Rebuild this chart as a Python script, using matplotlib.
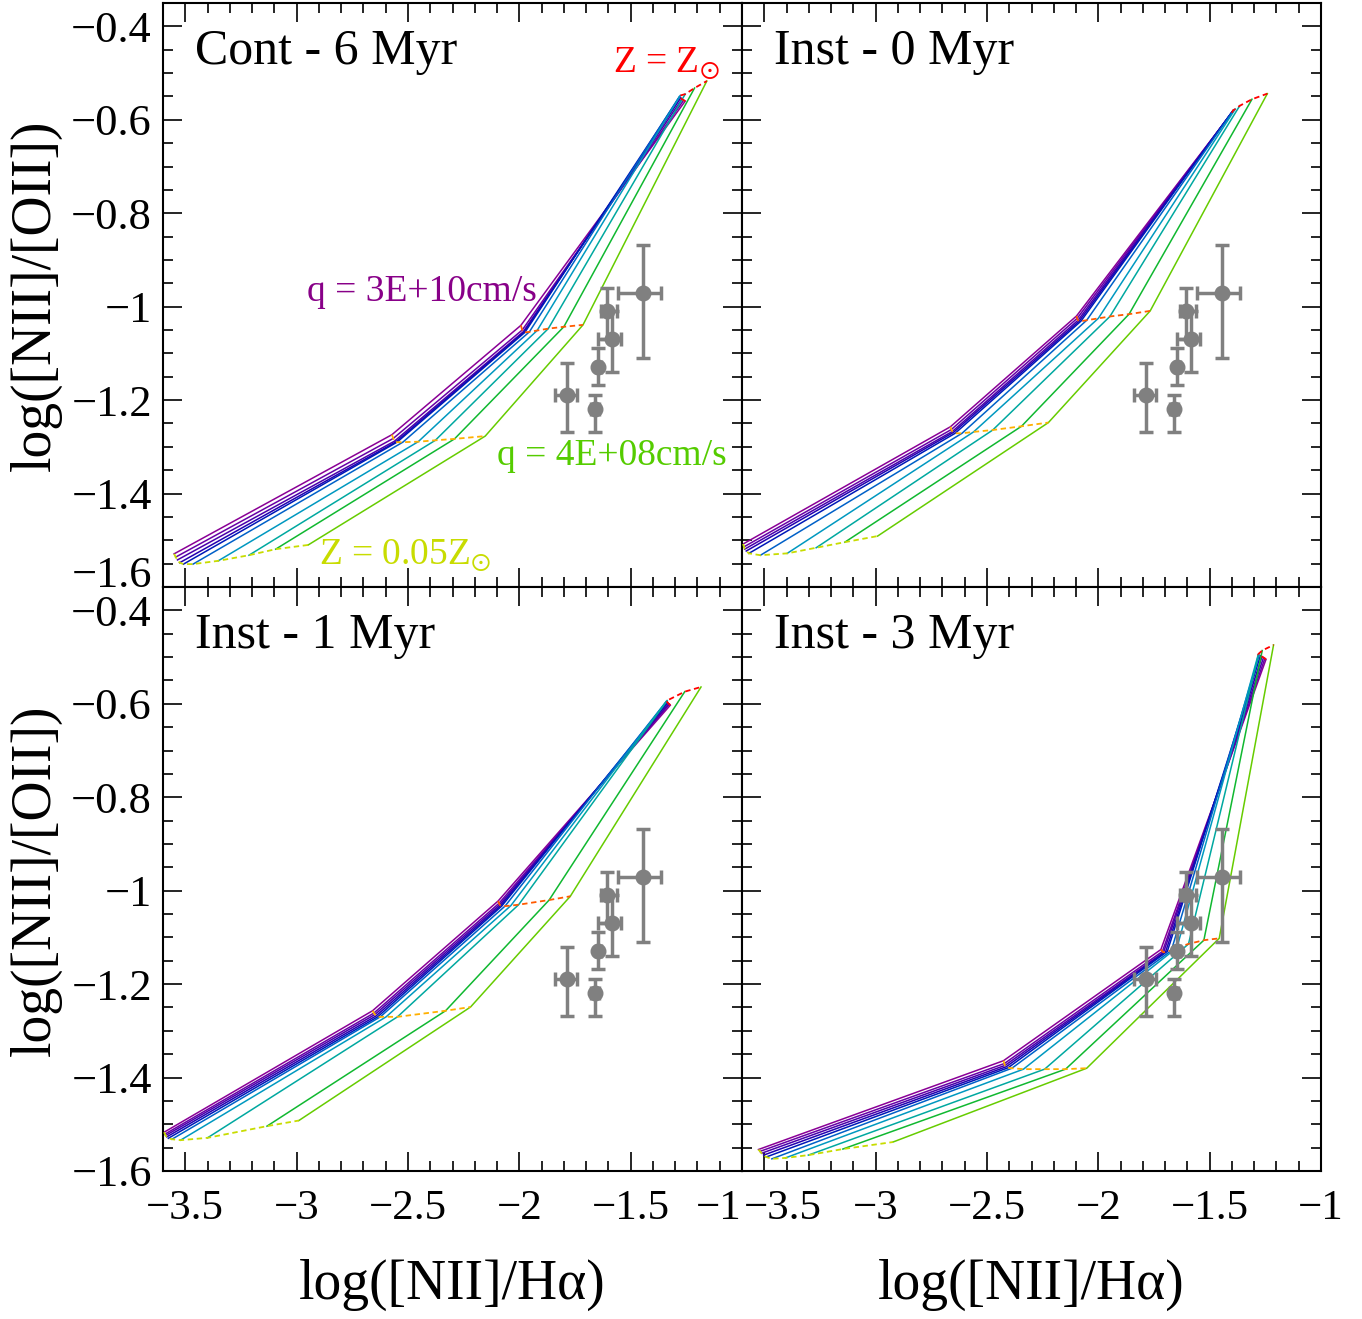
import matplotlib
matplotlib.use('Agg')
import matplotlib.pyplot as plt
import matplotlib.transforms as mtransforms
from matplotlib.ticker import MultipleLocator, FixedLocator

plt.rcParams['font.family'] = ['Liberation Serif', 'DejaVu Serif']
plt.rcParams['mathtext.fontset'] = 'stix'

# ---------------- data ----------------
panel_titles = ['Cont - 6 Myr', 'Inst - 0 Myr', 'Inst - 1 Myr', 'Inst - 3 Myr']
metallicities = ['0.05', '0.2', '0.4', '1']          # Z / Zsun (columns)
q_values = ['3E+10', '2E+10', '1.5E+10', '1E+10', '8E+09',
            '4E+09', '2E+09', '1.5E+09', '8E+08', '4E+08']   # rows (cm/s)

# log([NII]/Halpha) per q (rows) and Z (columns)
cont6_x = [[-3.550, -2.572, -1.993, -1.255],
           [-3.543, -2.566, -1.987, -1.262],
           [-3.535, -2.561, -1.983, -1.270],
           [-3.525, -2.556, -1.980, -1.275],
           [-3.508, -2.549, -1.975, -1.280],
           [-3.465, -2.523, -1.955, -1.281],
           [-3.352, -2.454, -1.920, -1.277],
           [-3.214, -2.377, -1.870, -1.255],
           [-3.094, -2.291, -1.800, -1.213],
           [-2.948, -2.153, -1.714, -1.158]]
cont6_y = [[-1.529, -1.274, -1.040, -0.560],
           [-1.536, -1.282, -1.050, -0.558],
           [-1.542, -1.288, -1.054, -0.556],
           [-1.548, -1.290, -1.055, -0.553],
           [-1.551, -1.290, -1.055, -0.551],
           [-1.551, -1.290, -1.054, -0.550],
           [-1.544, -1.289, -1.051, -0.548],
           [-1.532, -1.286, -1.047, -0.545],
           [-1.519, -1.283, -1.043, -0.532],
           [-1.510, -1.277, -1.039, -0.517]]

inst0_x = [[-3.595, -2.664, -2.098, -1.400],
           [-3.591, -2.660, -2.095, -1.398],
           [-3.588, -2.655, -2.091, -1.397],
           [-3.581, -2.650, -2.086, -1.396],
           [-3.569, -2.643, -2.078, -1.395],
           [-3.517, -2.612, -2.052, -1.392],
           [-3.397, -2.560, -2.000, -1.385],
           [-3.267, -2.474, -1.948, -1.365],
           [-3.138, -2.345, -1.862, -1.310],
           [-2.991, -2.224, -1.767, -1.241]]
inst0_y = [[-1.508, -1.257, -1.020, -0.585],
           [-1.514, -1.263, -1.025, -0.583],
           [-1.519, -1.267, -1.029, -0.582],
           [-1.523, -1.269, -1.031, -0.581],
           [-1.528, -1.271, -1.031, -0.580],
           [-1.532, -1.271, -1.029, -0.579],
           [-1.528, -1.268, -1.025, -0.577],
           [-1.516, -1.264, -1.021, -0.570],
           [-1.504, -1.256, -1.016, -0.556],
           [-1.491, -1.248, -1.009, -0.544]]

inst1_x = [[-3.595, -2.659, -2.095, -1.322],
           [-3.591, -2.653, -2.091, -1.326],
           [-3.588, -2.648, -2.088, -1.329],
           [-3.583, -2.643, -2.084, -1.333],
           [-3.576, -2.636, -2.079, -1.336],
           [-3.560, -2.624, -2.064, -1.340],
           [-3.521, -2.598, -2.038, -1.340],
           [-3.400, -2.547, -2.003, -1.336],
           [-3.133, -2.331, -1.866, -1.257],
           [-2.990, -2.219, -1.771, -1.184]]
inst1_y = [[-1.517, -1.257, -1.022, -0.603],
           [-1.521, -1.262, -1.027, -0.601],
           [-1.524, -1.265, -1.030, -0.600],
           [-1.527, -1.268, -1.032, -0.598],
           [-1.530, -1.270, -1.033, -0.596],
           [-1.532, -1.270, -1.033, -0.595],
           [-1.534, -1.270, -1.032, -0.595],
           [-1.529, -1.270, -1.030, -0.593],
           [-1.504, -1.257, -1.020, -0.574],
           [-1.492, -1.249, -1.012, -0.564]]

inst3_x = [[-3.526, -2.426, -1.719, -1.247],
           [-3.519, -2.422, -1.712, -1.252],
           [-3.512, -2.419, -1.707, -1.258],
           [-3.503, -2.414, -1.698, -1.265],
           [-3.491, -2.405, -1.690, -1.272],
           [-3.466, -2.388, -1.672, -1.278],
           [-3.405, -2.336, -1.647, -1.282],
           [-3.302, -2.241, -1.595, -1.280],
           [-3.147, -2.147, -1.526, -1.264],
           [-2.922, -2.052, -1.457, -1.213]]
inst3_y = [[-1.554, -1.364, -1.126, -0.505],
           [-1.558, -1.370, -1.130, -0.503],
           [-1.562, -1.374, -1.132, -0.501],
           [-1.566, -1.377, -1.131, -0.499],
           [-1.570, -1.379, -1.130, -0.497],
           [-1.574, -1.380, -1.128, -0.496],
           [-1.572, -1.382, -1.122, -0.495],
           [-1.566, -1.382, -1.114, -0.493],
           [-1.553, -1.382, -1.106, -0.486],
           [-1.538, -1.380, -1.102, -0.474]]

grids_x = [cont6_x, inst0_x, inst1_x, inst3_x]
grids_y = [cont6_y, inst0_y, inst1_y, inst3_y]

# observed galaxies
obs_x = [-1.446, -1.608, -1.585, -1.645, -1.660, -1.784]
obs_y = [-0.970, -1.010, -1.070, -1.129, -1.220, -1.190]
obs_xerr_lo = [0.109, 0.025, 0.063, 0.010, 0.020, 0.056]
obs_xerr_hi = [0.081, 0.045, 0.042, 0.010, 0.020, 0.042]
obs_yerr_lo = [0.139, 0.060, 0.070, 0.039, 0.048, 0.079]
obs_yerr_hi = [0.101, 0.050, 0.060, 0.041, 0.032, 0.070]

q_colors = ['#8a0096', '#6800a6', '#4a00aa', '#2400b0', '#0018b8',
            '#0060c8', '#0098c0', '#00a8a0', '#10b830', '#66cc00']
z_colors = ['#c8dc00', '#ffb000', '#ff5a00', '#ff0000']

xticks = [-3.5, -3, -2.5, -2, -1.5, -1]
yticks = [-1.6, -1.4, -1.2, -1.0, -0.8, -0.6, -0.4]


def fmt(v):
    s = '%g' % v
    return s.replace('-', '\u2212')


W, H = 1362, 1319
fig = plt.figure(figsize=(W / 100, H / 100), dpi=100)

boxes = [(163, 3), (742, 3), (163, 587), (742, 587)]
pw, ph = 579, 584
axes = []
for i, (px, py) in enumerate(boxes):
    ax = fig.add_axes([px / W, 1 - (py + ph) / H, pw / W, ph / H])
    axes.append(ax)
    ax.set_xlim(-3.6, -1.0)
    ax.set_ylim(-1.6, -0.35)
    ax.xaxis.set_major_locator(FixedLocator(xticks))
    ax.yaxis.set_major_locator(FixedLocator(yticks))
    ax.xaxis.set_minor_locator(MultipleLocator(0.1))
    ax.yaxis.set_minor_locator(MultipleLocator(0.05))
    ax.tick_params(which='both', direction='in', top=True, right=True,
                   width=1.2)
    ax.tick_params(which='major', length=14)
    ax.tick_params(which='minor', length=7)
    ax.tick_params(axis='x', pad=13, labelsize=31)
    ax.tick_params(axis='y', pad=8, labelsize=32)
    for sp in ax.spines.values():
        sp.set_linewidth(1.5)
    ax.set_xticks(xticks)
    ax.set_yticks(yticks)
    if i >= 2:
        ax.set_xticklabels([fmt(v) for v in xticks])
    else:
        ax.set_xticklabels([])
    if i % 2 == 0:
        ax.set_yticklabels([fmt(v) for v in yticks])
    else:
        ax.set_yticklabels([])

    gx = grids_x[i]
    gy = grids_y[i]
    for k in range(len(q_values)):
        ax.plot(gx[k], gy[k], color=q_colors[k], lw=1.1, zorder=2)
    for j in range(len(metallicities)):
        ax.plot([row[j] for row in gx], [row[j] for row in gy],
                color=z_colors[j], lw=1.3, ls=(0, (3, 2)), zorder=3)

    ax.errorbar(obs_x, obs_y, xerr=[obs_xerr_lo, obs_xerr_hi],
                yerr=[obs_yerr_lo, obs_yerr_hi], fmt='o', color='#808080',
                ms=10.5, elinewidth=2.5, capsize=5, capthick=2.5, zorder=5)

    ax.text(0.055, 0.916, panel_titles[i],
            transform=ax.transAxes, fontsize=36, ha='left', va='center')

# special tick label placement at the junctions
axes[0].get_yticklabels()[0].set_va('baseline')
axes[2].get_xticklabels()[-1].set_ha('right')
lab = axes[3].get_xticklabels()[0]
lab.set_ha('left')
lab.set_transform(lab.get_transform() +
                  mtransforms.ScaledTranslation(-0.2, 0, fig.dpi_scale_trans))

ax0 = axes[0]
ax0.text(0.646, 0.505, 'q = 3E+10cm/s', transform=ax0.transAxes,
         color='#880088', fontsize=27, ha='right', va='center')
ax0.text(0.974, 0.224, 'q = 4E+08cm/s', transform=ax0.transAxes,
         color='#55cc00', fontsize=27, ha='right', va='center')
ax0.text(0.962, 0.897, r'Z = Z$_{\odot}$', transform=ax0.transAxes,
         color='#ff0000', fontsize=27, ha='right', va='center')
ax0.text(0.568, 0.055, r'Z = 0.05Z$_{\odot}$', transform=ax0.transAxes,
         color='#c8dc00', fontsize=27, ha='right', va='center')

# axis labels
fig.text(452 / W, 1 - 1285 / H, 'log([NII]/H\u03b1)', fontsize=40,
         ha='center', va='center')
fig.text(1031 / W, 1 - 1285 / H, 'log([NII]/H\u03b1)', fontsize=40,
         ha='center', va='center')
fig.text(36 / W, 1 - 295 / H, 'log([NII]/[OII])', fontsize=40,
         ha='center', va='center', rotation=90)
fig.text(36 / W, 1 - 880 / H, 'log([NII]/[OII])', fontsize=40,
         ha='center', va='center', rotation=90)

fig.savefig('out.png', dpi=100)
